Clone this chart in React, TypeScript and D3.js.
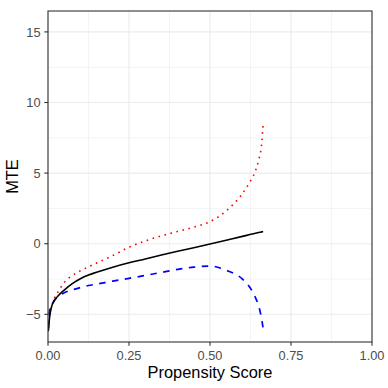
import React from 'react';
import * as d3 from 'd3';

// propensity score grid and the three MTE curves
const propensity = [0.001, 0.005, 0.01, 0.02, 0.03, 0.05, 0.075, 0.1, 0.125, 0.15, 0.2, 0.25, 0.3, 0.35, 0.4, 0.45, 0.5, 0.55, 0.6, 0.62, 0.64, 0.65, 0.66, 0.664];
const mteMain = [-6.2, -5.2, -4.55, -4.0, -3.72, -3.28, -2.82, -2.48, -2.22, -2.02, -1.66, -1.35, -1.08, -0.8, -0.54, -0.28, -0.02, 0.25, 0.52, 0.63, 0.74, 0.79, 0.84, 0.86];
const mteUpper = [-6.0, -5.0, -4.5, -3.85, -3.45, -2.75, -2.25, -1.92, -1.63, -1.37, -0.84, -0.25, 0.2, 0.55, 0.87, 1.17, 1.56, 2.32, 3.55, 4.25, 5.15, 5.9, 7.2, 8.5];
const mteLower = [-6.0, -4.7, -4.45, -4.0, -3.78, -3.47, -3.27, -3.1, -2.96, -2.86, -2.65, -2.45, -2.25, -2.03, -1.82, -1.66, -1.58, -1.88, -2.5, -3.0, -3.8, -4.4, -5.4, -6.0];

const xTicks = [0, 0.25, 0.5, 0.75, 1];
const xMinor = [0.125, 0.375, 0.625, 0.875];
const yTicks = [-5, 0, 5, 10, 15];
const yMinor = [-2.5, 2.5, 7.5, 12.5];

const W = 388;
const H = 388;
const margin = { top: 11, right: 16, bottom: 46, left: 48 };

const App = () => {
  const innerW = W - margin.left - margin.right;
  const innerH = H - margin.top - margin.bottom;

  const x = d3.scaleLinear().domain([0, 1]).range([0, innerW]);
  const y = d3.scaleLinear().domain([-6.96, 16.48]).range([innerH, 0]);

  const line = d3.line<[number, number]>()
    .x(d => x(d[0]))
    .y(d => y(d[1]))
    .curve(d3.curveMonotoneX);

  const pts = (vals: number[]) => propensity.map((p, i) => [p, vals[i]] as [number, number]);

  const font = '"Liberation Sans", Arial, Helvetica, sans-serif';

  return (
    <svg width={W} height={H} style={{ position: 'absolute', left: 0, top: 0, background: '#fff' }} fontFamily={font}>
      <g transform={`translate(${margin.left},${margin.top})`}>
        <clipPath id="panel">
          <rect x={0} y={0} width={innerW} height={innerH} />
        </clipPath>
        {/* grid */}
        {xMinor.map(t => (
          <line key={'xm' + t} x1={x(t)} x2={x(t)} y1={0} y2={innerH} stroke="#EBEBEB" strokeWidth={0.55} />
        ))}
        {yMinor.map(t => (
          <line key={'ym' + t} x1={0} x2={innerW} y1={y(t)} y2={y(t)} stroke="#EBEBEB" strokeWidth={0.55} />
        ))}
        {xTicks.map(t => (
          <line key={'xg' + t} x1={x(t)} x2={x(t)} y1={0} y2={innerH} stroke="#EBEBEB" strokeWidth={1.1} />
        ))}
        {yTicks.map(t => (
          <line key={'yg' + t} x1={0} x2={innerW} y1={y(t)} y2={y(t)} stroke="#EBEBEB" strokeWidth={1.1} />
        ))}

        {/* curves */}
        <g clipPath="url(#panel)" fill="none">
          <path d={line(pts(mteUpper)) || ''} stroke="#FF0000" strokeWidth={1.6} strokeDasharray="1.6 4.6" />
          <path d={line(pts(mteLower)) || ''} stroke="#0000FF" strokeWidth={1.7} strokeDasharray="6.5 6.5" />
          <path d={line(pts(mteMain)) || ''} stroke="#000000" strokeWidth={1.6} />
        </g>

        {/* panel border */}
        <rect x={0} y={0} width={innerW} height={innerH} fill="none" stroke="#333333" strokeWidth={1.1} />

        {/* x axis */}
        {xTicks.map(t => (
          <g key={'xt' + t} transform={`translate(${x(t)},${innerH})`}>
            <line y1={0} y2={3.7} stroke="#333333" strokeWidth={1.1} />
            <text y={18} textAnchor="middle" fontSize={12.8} fill="#4D4D4D">{d3.format('.2f')(t)}</text>
          </g>
        ))}
        {/* y axis */}
        {yTicks.map(t => (
          <g key={'yt' + t} transform={`translate(0,${y(t)})`}>
            <line x1={0} x2={-3.7} stroke="#333333" strokeWidth={1.1} />
            <text x={-7.5} dy="0.36em" textAnchor="end" fontSize={12.8} fill="#4D4D4D">{t < 0 ? '\u2212' + Math.abs(t) : t}</text>
          </g>
        ))}

        <text x={innerW / 2} y={innerH + 36} textAnchor="middle" fontSize={16.4} fill="#000">Propensity Score</text>
        <text transform={`translate(${-30},${innerH / 2}) rotate(-90)`} textAnchor="middle" fontSize={16.4} fill="#000">MTE</text>
      </g>
    </svg>
  );
};

export default App;
